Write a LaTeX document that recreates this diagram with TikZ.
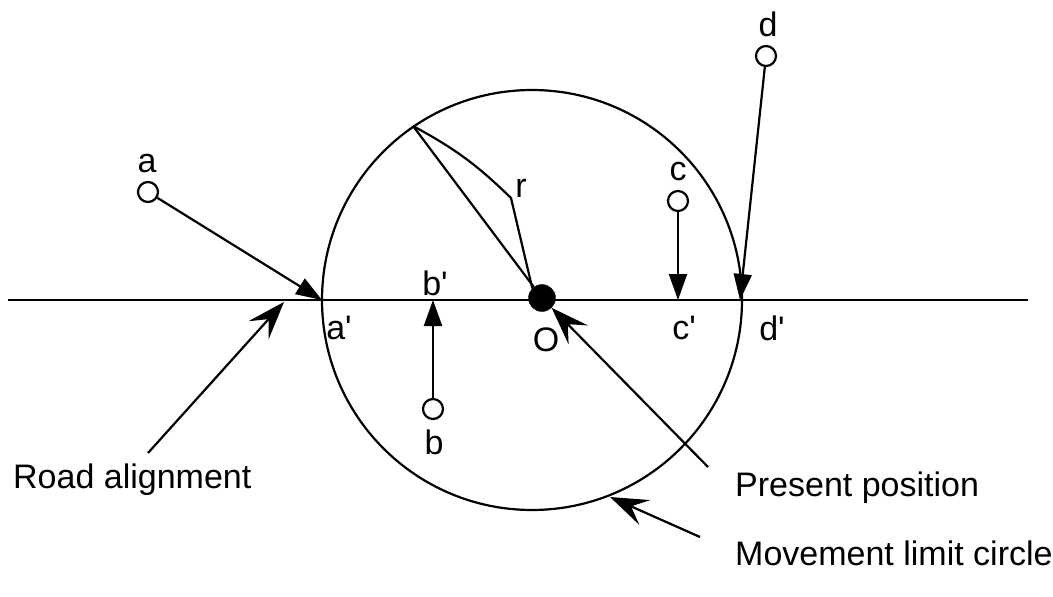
\documentclass[tikz,border=0pt]{standalone}
\usepackage{fontspec}
\setmainfont{Liberation Sans}
\usetikzlibrary{arrows.meta}

\tikzset{
  spot/.style={draw,circle,line width=2.2pt,minimum size=20pt,inner sep=0pt,fill=white},
  lbl/.style={font=\fontsize{34}{40}\selectfont,inner sep=0pt},
  move/.style={line width=2.2pt,-{Triangle[length=26pt,width=18pt]}},
  point/.style={line width=2.2pt,-{Stealth[length=38pt,width=27pt,inset=15pt]}}
}
\newcommand{\pr}{\textquotesingle}

\begin{document}
\begin{tikzpicture}[x=1pt,y=-1pt]
\useasboundingbox (0,0) rectangle (1053,597);
% road and movement limit circle
\coordinate (roadL) at (8,300);
\coordinate (roadR) at (1028,300);
\draw[line width=2.2pt] (roadL) -- (roadR);
\draw[line width=2.2pt] (532,300) circle (210);
\node[draw,circle,fill=black,minimum size=27pt,inner sep=0pt] (O) at (542,298) {};
% radius
\coordinate (rtop) at (413,126);
\coordinate (rbend) at (511,198);
\draw[line width=2.2pt] (rtop) -- (O);
\draw[line width=2.2pt] (rtop) to[bend left=8] (rbend) -- (O.north west);
\node[lbl] (rlbl) at (521,188) {r};
% projected points on the road
\coordinate (ap) at (322,300);
\coordinate (bp) at (433,300);
\coordinate (cp) at (678,300);
\coordinate (dp) at (740,300);
% positions and their moves
\node[spot] (a) at (148,192) {};
\node[spot] (b) at (433,409) {};
\node[spot] (c) at (678,201) {};
\node[spot] (d) at (766,56) {};
\draw[move] (a) -- (ap);
\draw[move] (b) -- (bp);
\draw[move] (c) -- (cp);
\draw[move] (d) -- (dp);
\node[lbl] (alb) at (147,164) {a};
\node[lbl] (blb) at (434,442) {b};
\node[lbl] (clb) at (678,172) {c};
\node[lbl] (dlb) at (768,24) {d};
\node[lbl] (aplb) at (339,328) {a\pr};
\node[lbl] (bplb) at (435,283) {b\pr};
\node[lbl] (cplb) at (684,328) {c\pr};
\node[lbl] (dplb) at (772,328) {d\pr};
\node[lbl] (Olb) at (546,340) {O};
% captions
\node[lbl,anchor=west] (road) at (13,480) {Road alignment};
\node[lbl,anchor=west] (pres) at (735,488) {Present position};
\node[lbl,anchor=west] (limit) at (735,553) {Movement limit circle};
\coordinate (roadtip) at (284,302);
\coordinate (roadtail) at (148,453);
\coordinate (prestail) at (708,467);
\coordinate (limittip) at (610,497);
\coordinate (limittail) at (700,537);
\draw[point] (roadtail) -- (roadtip);
\draw[point] (prestail) -- (O);
\draw[point] (limittail) -- (limittip);
\end{tikzpicture}
\end{document}
